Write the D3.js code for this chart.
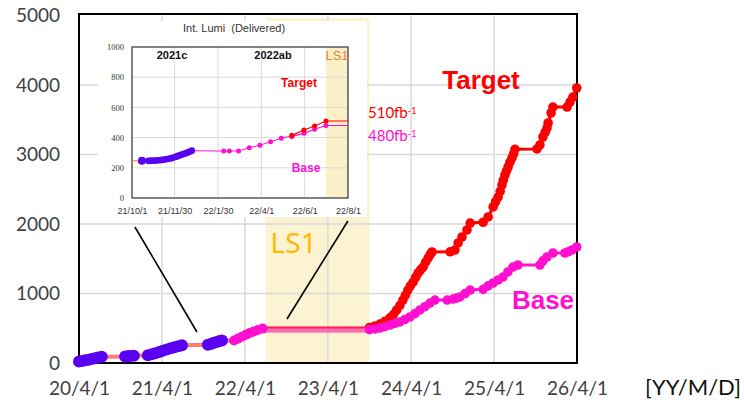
<!DOCTYPE html>
<html><head><meta charset="utf-8">
<script src="https://cdn.jsdelivr.net/npm/d3@7"></script>
<style>
html,body{margin:0;padding:0;background:#fff;}
svg{display:block;}
text{white-space:pre;}
</style></head><body>
<svg id="chart" width="744" height="403"></svg>
<script>
// ---------------- DATA ----------------
const yTicks = [0, 1000, 2000, 3000, 4000, 5000];
const xTickDates = ["2020-04-01","2021-04-01","2022-04-01","2023-04-01","2024-04-01","2025-04-01","2026-04-01"];
const ls1Period = ["2022-07-01", "2023-10-01"];

// delivered (blue) 2020-2021
const pastDates = ["2020-04-01","2020-04-15","2020-04-29","2020-05-13","2020-05-27","2020-06-10","2020-06-24","2020-07-10",
  "2020-10-21","2020-11-01","2020-11-12","2020-11-28",
  "2021-01-29","2021-02-15","2021-03-03","2021-03-20","2021-04-05","2021-04-22","2021-05-10","2021-05-26","2021-06-12","2021-06-28",
  "2021-10-20","2021-11-02","2021-11-15","2021-11-28","2021-12-10","2021-12-21"];
const pastLumi = [20,28,38,48,58,68,80,90,
  92,96,100,106,
  112,125,140,158,178,195,212,228,242,255,
  262,275,290,303,315,325];

// 2022ab run (magenta)
const run2022Dates = ["2022-02-12","2022-03-01","2022-03-18","2022-04-05","2022-04-22","2022-05-10","2022-05-28","2022-06-18"];
const run2022Lumi = [325,350,378,405,432,455,475,495];

// LS1 flat
const ls1Dates = ["2022-06-18","2022-07-01","2023-10-01"];
const ls1Target = [495,510,510];
const ls1Base = [495,480,480];

// Target (red)
const targetDates = ["2023-10-01","2023-10-25","2023-11-16","2023-12-08","2023-12-30","2024-01-15","2024-01-29","2024-02-12","2024-02-25","2024-03-07",
  "2024-03-18","2024-03-29","2024-04-10","2024-04-21","2024-05-02","2024-05-13","2024-05-24","2024-06-04","2024-06-15","2024-06-24","2024-07-02",
  "2024-09-20","2024-10-11","2024-10-25","2024-11-11","2024-12-03","2024-12-17",
  "2025-02-12","2025-03-06","2025-03-28","2025-04-08","2025-04-19","2025-04-28","2025-05-06","2025-05-12","2025-05-19","2025-05-26","2025-06-02",
  "2025-06-10","2025-06-19","2025-06-26","2025-07-02",
  "2025-10-07","2025-10-20","2025-11-02","2025-11-12","2025-11-20","2025-11-25","2025-12-08","2025-12-16",
  "2026-02-16","2026-03-01","2026-03-14","2026-03-31"];
const targetLumi = [510,530,560,600,650,700,763,830,906,975,
  1050,1110,1165,1230,1295,1340,1381,1450,1511,1560,1597,
  1600,1626,1727,1813,1914,2014,
  2025,2101,2245,2320,2388,2470,2561,2630,2705,2765,2820,
  2890,2950,3010,3075,
  3080,3137,3252,3320,3381,3453,3597,3683,
  3683,3755,3827,3957];

// Base (magenta)
const baseDates = ["2023-10-01","2023-10-25","2023-11-16","2023-12-08","2023-12-30","2024-01-20","2024-02-11","2024-03-04","2024-03-27","2024-04-18",
  "2024-05-10","2024-06-01","2024-06-23","2024-07-15",
  "2024-09-07","2024-10-03","2024-10-18","2024-11-02","2024-11-25","2024-12-17",
  "2025-02-12","2025-03-06","2025-03-28","2025-04-19","2025-05-10","2025-06-01","2025-06-23","2025-07-15",
  "2025-10-20","2025-11-02","2025-11-20","2025-12-16",
  "2026-02-07","2026-02-21","2026-03-10","2026-03-31"];
const baseLumi = [480,490,503,525,547,570,590,625,662,710,
  763,810,863,906,
  906,920,935,950,1000,1050,
  1060,1110,1151,1195,1237,1310,1381,1410,
  1410,1470,1525,1583,
  1583,1600,1626,1669];

// inset
const insetYTicks = [0,200,400,600,800,1000];
const insetXTickDates = ["2021-10-01","2021-11-30","2022-01-30","2022-04-01","2022-06-01","2022-08-01"];
const insetLS1 = ["2022-07-01","2022-08-01"];
const insetPastDates = ["2021-10-15","2021-10-24","2021-10-28","2021-11-01","2021-11-05","2021-11-10","2021-11-14","2021-11-19","2021-11-24",
  "2021-11-28","2021-12-02","2021-12-05","2021-12-08","2021-12-11","2021-12-14","2021-12-17","2021-12-20","2021-12-24"];
const insetPastLumi = [246,246,247,248,249,251,254,258,262,268,274,279,284,289,294,299,305,313];
const insetLeadDates = ["2021-10-01","2021-10-15"];
const insetLeadLumi = [246,246];
const insetRunDates = ["2021-12-24","2022-02-07","2022-02-15","2022-02-28","2022-03-15","2022-03-30","2022-04-14","2022-04-29","2022-05-14"];
const insetRunLumi = [313,311,311,311,333,350,372,395,411];
const insetTargetDates = ["2022-05-14","2022-05-31","2022-06-15","2022-07-01","2022-08-01"];
const insetTargetLumi = [415,450,477,510,510];
const insetBaseDates = ["2022-05-14","2022-05-31","2022-06-15","2022-07-01","2022-08-01"];
const insetBaseLumi = [408,428,455,480,480];

// connector lines (main chart data units)
const connectorStarts = [["2020-12-03",1957],["2023-06-28",2043]];
const connectorEnds = [["2021-09-02",446],["2022-10-03",633]];

// ---------------- DRAW ----------------
const P = d3.timeParse("%Y-%m-%d");
const svg = d3.select("#chart");
const BLUE = "#5a00f0", MAG = "#ff10d0", RED = "#ff0000";

const x = d3.scaleTime().domain([P("2020-04-01"), P("2026-04-01")]).range([79, 577]);
const y = d3.scaleLinear().domain([0, 5000]).range([363, 15.5]);

const pts = (ds, vs) => ds.map((d, i) => [P(d), vs[i]]);
const line = d3.line().x(d => x(d[0])).y(d => y(d[1]));

// LS1 shading
svg.append("rect").attr("x", x(P(ls1Period[0]))).attr("width", x(P(ls1Period[1])) - x(P(ls1Period[0])))
  .attr("y", 18).attr("height", y(0) - 18).attr("fill", "#fcf3d2");

// grid
const g = svg.append("g");
g.selectAll(".hg").data(yTicks.slice(1, -1)).join("line")
  .attr("x1", x.range()[0]).attr("x2", x.range()[1]).attr("y1", d => y(d)).attr("y2", d => y(d))
  .attr("stroke", "#d9d9d9").attr("stroke-width", 1.5);
g.selectAll(".vg").data(xTickDates.slice(1, -1)).join("line")
  .attr("x1", d => x(P(d))).attr("x2", d => x(P(d))).attr("y1", y(5000)).attr("y2", y(0))
  .attr("stroke", "#d9d9d9").attr("stroke-width", 1.5);

// frame
svg.append("rect").attr("x", x.range()[0]).attr("y", 14).attr("width", x.range()[1] - x.range()[0]).attr("height", y(0) - 14)
  .attr("fill", "none").attr("stroke", "#000").attr("stroke-width", 2);

// axes
const yAxis = svg.append("g").attr("transform", `translate(${x.range()[0]},0)`)
  .call(d3.axisLeft(y).tickValues(yTicks).tickSize(0).tickPadding(19).tickFormat(d3.format("d")));
yAxis.select(".domain").remove();
yAxis.selectAll("text").attr("font-family", "Lato, 'Open Sans', sans-serif").attr("font-size", 19).attr("fill", "#404040");

const fmt = d3.timeFormat("%y/%-m/%-d");
const xAxis = svg.append("g").attr("transform", `translate(0,${y(0)})`)
  .call(d3.axisBottom(x).tickValues(xTickDates.map(P)).tickSize(0).tickPadding(19).tickFormat(fmt));
xAxis.select(".domain").remove();
xAxis.selectAll("text").attr("font-family", "Lato, 'Open Sans', sans-serif").attr("font-size", 19).attr("fill", "#404040");

// past (blue) with orange link line
const past = pts(pastDates, pastLumi);
const run22 = pts(run2022Dates, run2022Lumi);
const linkData = past.concat([run22[0]]);
svg.append("path").attr("d", line(linkData)).attr("fill", "none").attr("stroke", "#ff66b8").attr("stroke-width", 4);
svg.append("path").attr("d", line(linkData)).attr("fill", "none").attr("stroke", "#ff8a3a").attr("stroke-width", 2);

// LS1 flat lines
svg.append("path").attr("d", line(pts(ls1Dates, ls1Base))).attr("fill", "none").attr("stroke", "#ff5fb0").attr("stroke-width", 6).attr("opacity", 0.9);
svg.append("path").attr("d", line(pts(ls1Dates, ls1Target))).attr("fill", "none").attr("stroke", "#ff2050").attr("stroke-width", 2);

// 2022 run
svg.append("path").attr("d", line(run22)).attr("fill", "none").attr("stroke", MAG).attr("stroke-width", 5);
svg.selectAll(".r22").data(run22).join("circle").attr("cx", d => x(d[0])).attr("cy", d => y(d[1])).attr("r", 5).attr("fill", MAG);

svg.selectAll(".past").data(past).join("circle").attr("cx", d => x(d[0])).attr("cy", d => y(d[1])).attr("r", 6).attr("fill", BLUE);

// target & base
const tgt = pts(targetDates, targetLumi);
const bse = pts(baseDates, baseLumi);
svg.append("path").attr("d", line(tgt)).attr("fill", "none").attr("stroke", RED).attr("stroke-width", 3);
svg.selectAll(".tg").data(tgt).join("circle").attr("cx", d => x(d[0])).attr("cy", d => y(d[1])).attr("r", 4.8).attr("fill", RED);
svg.append("path").attr("d", line(bse)).attr("fill", "none").attr("stroke", MAG).attr("stroke-width", 3);
svg.selectAll(".bs").data(bse).join("circle").attr("cx", d => x(d[0])).attr("cy", d => y(d[1])).attr("r", 4.8).attr("fill", MAG);

// main labels
svg.append("text").attr("x", x(P(ls1Period[0])) + 5).attr("y", 253).text("LS1")
  .attr("font-family", "'Noto Sans', sans-serif").attr("font-size", 28).attr("fill", "#ffb900");
svg.append("text").attr("x", 481).attr("y", 80).attr("dy", "0.35em").attr("text-anchor", "middle").text("Target")
  .attr("font-family", "'Liberation Sans', Arial, sans-serif").attr("font-weight", "bold").attr("font-size", 26).attr("fill", RED);
svg.append("text").attr("x", 543).attr("y", 300).attr("dy", "0.35em").attr("text-anchor", "middle").text("Base")
  .attr("font-family", "'Liberation Sans', Arial, sans-serif").attr("font-weight", "bold").attr("font-size", 26).attr("fill", MAG);
svg.append("text").attr("x", 645).attr("y", 387).attr("dy", "0.35em").text("[YY/M/D]")
  .attr("font-family", "Lato, 'Open Sans', sans-serif").attr("font-size", 22).attr("fill", "#111");

// ---------------- INSET ----------------
const xi = d3.scaleTime().domain([P(insetXTickDates[0]), P(insetXTickDates[insetXTickDates.length - 1])]).range([132, 348]);
const yi = d3.scaleLinear().domain([0, 1000]).range([198, 47]);
const linei = d3.line().x(d => xi(d[0])).y(d => yi(d[1]));
const ins = svg.append("g");
ins.append("rect").attr("x", 98).attr("y", 21).attr("width", 269).attr("height", 196).attr("fill", "#fff");
ins.append("rect").attr("x", xi(P(insetLS1[0]))).attr("width", xi(P(insetLS1[1])) - xi(P(insetLS1[0])))
  .attr("y", yi(1000)).attr("height", yi(0) - yi(1000)).attr("fill", "#fcf0c8");
ins.selectAll(".ihg").data(insetYTicks.slice(1, -1)).join("line")
  .attr("x1", xi.range()[0]).attr("x2", xi.range()[1]).attr("y1", d => yi(d)).attr("y2", d => yi(d))
  .attr("stroke", "#d9d9d9").attr("stroke-width", 1);
ins.selectAll(".ivg").data(insetXTickDates.slice(1, -1)).join("line")
  .attr("x1", d => xi(P(d))).attr("x2", d => xi(P(d))).attr("y1", yi(1000)).attr("y2", yi(0))
  .attr("stroke", "#d9d9d9").attr("stroke-width", 1);
ins.append("rect").attr("x", xi.range()[0]).attr("y", yi(1000)).attr("width", xi.range()[1] - xi.range()[0]).attr("height", yi(0) - yi(1000))
  .attr("fill", "none").attr("stroke", "#404040").attr("stroke-width", 1.3);

const iy = ins.append("g").attr("transform", `translate(${xi.range()[0]},0)`)
  .call(d3.axisLeft(yi).tickValues(insetYTicks).tickSize(0).tickPadding(8).tickFormat(d3.format("d")));
iy.select(".domain").remove();
iy.selectAll("text").attr("font-family", "'Liberation Serif', serif").attr("font-size", 8.5).attr("fill", "#333");
const ix = ins.append("g").attr("transform", `translate(0,${yi(0)})`)
  .call(d3.axisBottom(xi).tickValues(insetXTickDates.map(P)).tickSize(0).tickPadding(10).tickFormat(fmt));
ix.select(".domain").remove();
ix.selectAll("text").attr("font-family", "'Liberation Sans', Arial, sans-serif").attr("font-size", 9).attr("fill", "#333");

ins.append("path").attr("d", linei(pts(insetLeadDates, insetLeadLumi))).attr("fill", "none").attr("stroke", "#ff7a4a").attr("stroke-width", 1.2);
const iRun = pts(insetRunDates, insetRunLumi);
ins.append("path").attr("d", linei(iRun)).attr("fill", "none").attr("stroke", MAG).attr("stroke-width", 1);
ins.selectAll(".irun").data(iRun.slice(1)).join("circle").attr("cx", d => xi(d[0])).attr("cy", d => yi(d[1])).attr("r", 2.5).attr("fill", MAG);
const iT = pts(insetTargetDates, insetTargetLumi), iB = pts(insetBaseDates, insetBaseLumi);
ins.append("path").attr("d", linei(iB)).attr("fill", "none").attr("stroke", MAG).attr("stroke-width", 1.2);
ins.selectAll(".ib").data(iB.slice(0, -1)).join("circle").attr("cx", d => xi(d[0])).attr("cy", d => yi(d[1])).attr("r", 2.5).attr("fill", MAG);
ins.append("path").attr("d", linei(iT)).attr("fill", "none").attr("stroke", RED).attr("stroke-width", 1.2);
ins.selectAll(".it").data(iT.slice(0, -1)).join("circle").attr("cx", d => xi(d[0])).attr("cy", d => yi(d[1])).attr("r", 2.5).attr("fill", RED);
const iPast = pts(insetPastDates, insetPastLumi);
ins.selectAll(".ip").data(iPast).join("circle").attr("cx", d => xi(d[0])).attr("cy", d => yi(d[1]))
  .attr("r", (d, i) => i === 0 ? 4 : 3.4).attr("fill", BLUE);

// inset texts
const sans = "'Liberation Sans', Arial, sans-serif";
ins.append("text").attr("x", 234).attr("y", 28).attr("dy", "0.35em").attr("text-anchor", "middle").text("Int. Lumi  (Delivered)")
  .attr("font-family", sans).attr("font-size", 11).attr("fill", "#333");
ins.append("text").attr("x", 172).attr("y", 55).attr("dy", "0.35em").attr("text-anchor", "middle").text("2021c")
  .attr("font-family", sans).attr("font-weight", "bold").attr("font-size", 11).attr("fill", "#111");
ins.append("text").attr("x", 273).attr("y", 55).attr("dy", "0.35em").attr("text-anchor", "middle").text("2022ab")
  .attr("font-family", sans).attr("font-weight", "bold").attr("font-size", 11).attr("fill", "#111");
ins.append("text").attr("x", 337).attr("y", 55).attr("dy", "0.35em").attr("text-anchor", "middle").text("LS1")
  .attr("font-family", sans).attr("font-size", 13).attr("fill", "#ed7d31");
ins.append("text").attr("x", 299).attr("y", 83).attr("dy", "0.35em").attr("text-anchor", "middle").text("Target")
  .attr("font-family", sans).attr("font-weight", "bold").attr("font-size", 12).attr("fill", RED);
ins.append("text").attr("x", 306).attr("y", 168).attr("dy", "0.35em").attr("text-anchor", "middle").text("Base")
  .attr("font-family", sans).attr("font-weight", "bold").attr("font-size", 12).attr("fill", MAG);

// fb labels
const fbLabels = [{v: "510fb", y: 113, c: RED}, {v: "480fb", y: 136, c: MAG}];
fbLabels.forEach(l => {
  const t = svg.append("text").attr("x", 368).attr("y", l.y).attr("dy", "0.35em")
    .attr("font-family", "Lato, 'Open Sans', sans-serif").attr("font-size", 15).attr("fill", l.c);
  t.append("tspan").text(l.v);
  t.append("tspan").attr("dy", "-0.45em").attr("font-size", 9).text("-1");
});

// connectors
connectorStarts.forEach((s, i) => {
  const e = connectorEnds[i];
  svg.append("line").attr("x1", x(P(s[0]))).attr("y1", y(s[1])).attr("x2", x(P(e[0]))).attr("y2", y(e[1]))
    .attr("stroke", "#000").attr("stroke-width", 1.6);
});
</script>
</body></html>
